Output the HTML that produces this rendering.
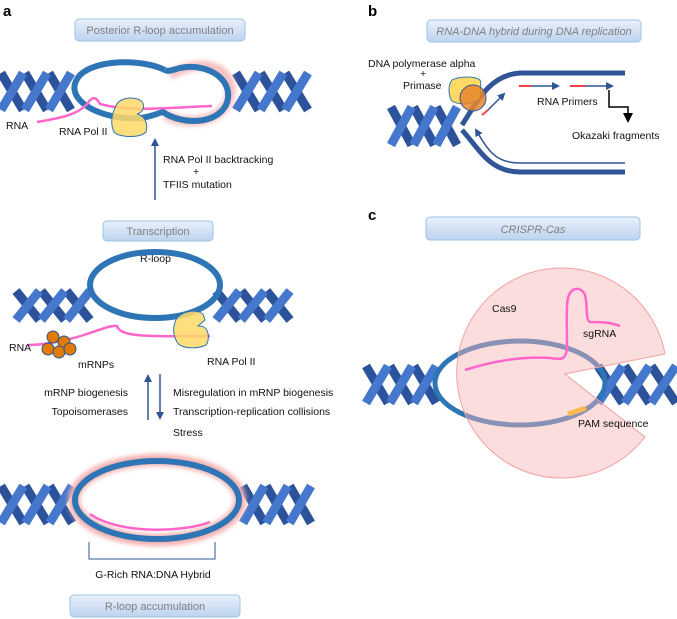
<!DOCTYPE html>
<html><head><meta charset="utf-8"><style>
body{margin:0;background:#fff}
svg{display:block;font-family:"Liberation Sans",Arial,sans-serif}
.bx{fill:url(#g);stroke:#9dc3e6;stroke-width:1}
.bt{fill:#7f7f7f;font-size:11px;text-anchor:middle}
.t{font-size:10.5px;fill:#111}
</style></head><body>
<svg id="s" width="677" height="619" viewBox="0 0 677 619" xmlns="http://www.w3.org/2000/svg">
<defs>
<linearGradient id="g" x1="0" y1="0" x2="0" y2="1"><stop offset="0" stop-color="#eaf1fb"/><stop offset="1" stop-color="#bcd3ef"/></linearGradient>
<filter id="gl" x="-20%" y="-20%" width="140%" height="140%"><feGaussianBlur stdDeviation="2.5"/></filter>
<marker id="ah" markerWidth="8" markerHeight="8" refX="6" refY="4" orient="auto" markerUnits="userSpaceOnUse"><path d="M0,0 L8,4 L0,8z" fill="#2f5597"/></marker>
<marker id="ak" markerWidth="10" markerHeight="10" refX="7" refY="5" orient="auto" markerUnits="userSpaceOnUse"><path d="M0,0 L10,5 L0,10z" fill="#000"/></marker>
</defs>
<g id="helix"></g>

<!-- Panel a -->
<text x="3" y="16" font-size="15" font-weight="bold">a</text>
<rect class="bx" x="75" y="19" width="170" height="22" rx="4"/>
<text class="bt" x="160" y="34">Posterior R-loop accumulation</text>

<path d="M170,75 C205,55 235,70 230,95 C226,120 190,128 165,115" fill="none" stroke="#f4b0b0" stroke-width="10" filter="url(#gl)" opacity=".8"/>
<path d="M165,70 C140,58 95,60 80,75 C62,95 90,115 125,118 C145,120 155,114 163,112 C180,124 215,126 226,105 C236,82 210,62 180,68 C172,70 168,72 165,70" fill="none" stroke="#2e75b6" stroke-width="6"/>
<path d="M37,122 C60,118 78,115 88,103 C93,95 97,98 100,104 C130,112 160,108 212,106" fill="none" stroke="#ff66cc" stroke-width="2.5"/>
<path d="M115,108 C118,98 130,96 140,100 C146,104 144,112 137,114 C146,116 148,125 146,132 C140,138 120,138 114,132 C110,124 112,114 115,108z" fill="#ffd966" fill-opacity=".85" stroke="#2e75b6" stroke-width="1"/>
<text class="t" x="6" y="129">RNA</text>
<text class="t" x="59" y="135">RNA Pol II</text>
<line x1="155" y1="200" x2="155" y2="140" stroke="#2f5597" stroke-width="1.5" marker-end="url(#ah)"/>
<text class="t" x="163" y="163">RNA Pol II backtracking</text>
<text class="t" x="193" y="175">+</text>
<text class="t" x="163" y="188">TFIIS mutation</text>

<rect class="bx" x="103" y="221" width="110" height="20" rx="4"/>
<text class="bt" x="158" y="235">Transcription</text>
<text class="t" x="140" y="262">R-loop</text>
<ellipse cx="155" cy="285" rx="65" ry="33" fill="none" stroke="#2e75b6" stroke-width="6"/>
<path d="M28,345 C45,345 70,340 90,333 C105,328 112,325 117,326 C120,336 140,337 210,336" fill="none" stroke="#ff66cc" stroke-width="2.5"/>
<g fill="#e07b00" stroke="#2f5597" stroke-width="1"><circle cx="53" cy="337" r="6"/><circle cx="64" cy="342" r="6"/><circle cx="48" cy="349" r="6"/><circle cx="59" cy="352" r="6"/><circle cx="70" cy="349" r="6"/></g>
<path d="M175,322 C178,312 195,308 203,314 L205,320 L198,326 C210,325 210,340 206,345 C195,350 180,348 177,342 C173,335 173,328 175,322z" fill="#ffd966" fill-opacity=".85" stroke="#2e75b6" stroke-width="1"/>
<text class="t" x="9" y="351">RNA</text>
<text class="t" x="78" y="368">mRNPs</text>
<text class="t" x="207" y="365">RNA Pol II</text>
<line x1="148" y1="420" x2="148" y2="376" stroke="#2f5597" stroke-width="1.5" marker-end="url(#ah)"/>
<line x1="160" y1="374" x2="160" y2="418" stroke="#2f5597" stroke-width="1.5" marker-end="url(#ah)"/>
<text class="t" x="128" y="396" text-anchor="end">mRNP biogenesis</text>
<text class="t" x="128" y="415" text-anchor="end">Topoisomerases</text>
<text class="t" x="173" y="396">Misregulation in mRNP biogenesis</text>
<text class="t" x="173" y="415">Transcription-replication collisions</text>
<text class="t" x="173" y="436">Stress</text>

<ellipse cx="157" cy="500" rx="83" ry="40" fill="none" stroke="#f4b0b0" stroke-width="12" filter="url(#gl)"/>
<ellipse cx="157" cy="500" rx="82" ry="39" fill="none" stroke="#2e75b6" stroke-width="6"/>
<path d="M90,514 C120,535 185,532 210,522" fill="none" stroke="#ff66cc" stroke-width="2.5"/>
<path d="M89,542 V559 H215 V542" fill="none" stroke="#2f5597" stroke-width="1"/>
<text class="t" x="153" y="578" text-anchor="middle">G-Rich RNA:DNA Hybrid</text>
<rect class="bx" x="70" y="595" width="170" height="22" rx="4"/>
<text class="bt" x="155" y="610">R-loop accumulation</text>

<!-- Panel b -->
<text x="368" y="16" font-size="15" font-weight="bold">b</text>
<rect class="bx" x="427" y="20" width="214" height="22" rx="4"/>
<text class="bt" x="534" y="35" font-style="italic">RNA-DNA hybrid during DNA replication</text>
<text class="t" x="368" y="67">DNA polymerase alpha</text>
<text class="t" x="420" y="77">+</text>
<text class="t" x="403" y="89">Primase</text>
<path d="M462,125 C478,100 490,75 520,73 L625,73" fill="none" stroke="#2f5597" stroke-width="5"/>
<path d="M462,130 C480,150 490,172 520,172 L625,172" fill="none" stroke="#2f5597" stroke-width="5"/>
<path d="M625,163 L520,163 C495,163 488,150 476,130" fill="none" stroke="#2f5597" stroke-width="1.5" marker-end="url(#ah)"/>
<path d="M452,80 C460,76 475,76 480,80 C482,84 480,92 480,98 C475,104 460,106 452,101 C448,95 448,85 452,80z" fill="#ffd966" stroke="#2e75b6" stroke-width="1"/>
<circle cx="473" cy="98" r="13" fill="#e8862a" fill-opacity=".85" stroke="#2f5597" stroke-width="1"/>
<line x1="482" y1="115" x2="488" y2="110" stroke="#ff4040" stroke-width="2"/>
<line x1="488" y1="110" x2="504" y2="94" stroke="#2f5597" stroke-width="1.5" marker-end="url(#ah)"/>
<line x1="519" y1="86" x2="531" y2="86" stroke="#ff4040" stroke-width="2"/>
<line x1="531" y1="86" x2="558" y2="86" stroke="#2f5597" stroke-width="1.5" marker-end="url(#ah)"/>
<line x1="570" y1="86" x2="585" y2="86" stroke="#ff4040" stroke-width="2"/>
<line x1="585" y1="86" x2="612" y2="86" stroke="#2f5597" stroke-width="1.5" marker-end="url(#ah)"/>
<text class="t" x="537" y="105">RNA Primers</text>
<path d="M609,90 V107 H628 V120" fill="none" stroke="#000" stroke-width="1.5" marker-end="url(#ak)"/>
<text class="t" x="572" y="139">Okazaki fragments</text>

<!-- Panel c -->
<text x="368" y="220" font-size="15" font-weight="bold">c</text>
<rect class="bx" x="426" y="217" width="214" height="23" rx="4"/>
<text class="bt" x="533" y="233" font-style="italic">CRISPR-Cas</text>
<ellipse cx="520" cy="383" rx="85" ry="42" fill="none" stroke="#2e75b6" stroke-width="5"/>
<path d="M568,414 L586,408" stroke="#ffc000" stroke-width="5"/>
<path d="M565,374 L665,354 A105,105 0 1 0 645,437 Z" fill="#f8b4b4" fill-opacity=".45" stroke="#f4a0a0" stroke-width="1"/>
<path d="M465,370 C490,362 520,356 550,358 C562,360 567,360 567,345 C567,325 566,305 568,298 C570,288 580,285 585,295 C588,305 585,320 590,322 C598,322 610,322 620,326" fill="none" stroke="#ff66cc" stroke-width="2.5"/>
<text class="t" x="492" y="312">Cas9</text>
<text class="t" x="583" y="337">sgRNA</text>
<text class="t" x="578" y="427">PAM sequence</text>
</svg>
<script>
var H=[[0,73,110,72],[235,73,110,74],[15,291,320,76],[215,291,320,76],[0,486,523,73],[242,486,523,70],[365,366,403,72],[597,366,403,80],[390,107,145,68]];
var g=document.getElementById('helix'),o='';
H.forEach(function(h){var x0=h[0],y0=h[1],y1=h[2],w=h[3],n=3,s=w/n;
var p1='',p2='';
for(var i=0;i<n;i++){var a=x0+s*i,c=a+s;
p1+='<path d="M'+(a+1)+','+y0+' L'+(c-1)+','+y1+'" stroke="#2b529a" stroke-width="9" fill="none"/>';
p2+='<path d="M'+(a+1)+','+y1+' L'+(c-1)+','+y0+'" stroke="#4577cc" stroke-width="9" fill="none"/>';}
o+=p1+p2;});
g.innerHTML=o;
</script>
</body></html>
